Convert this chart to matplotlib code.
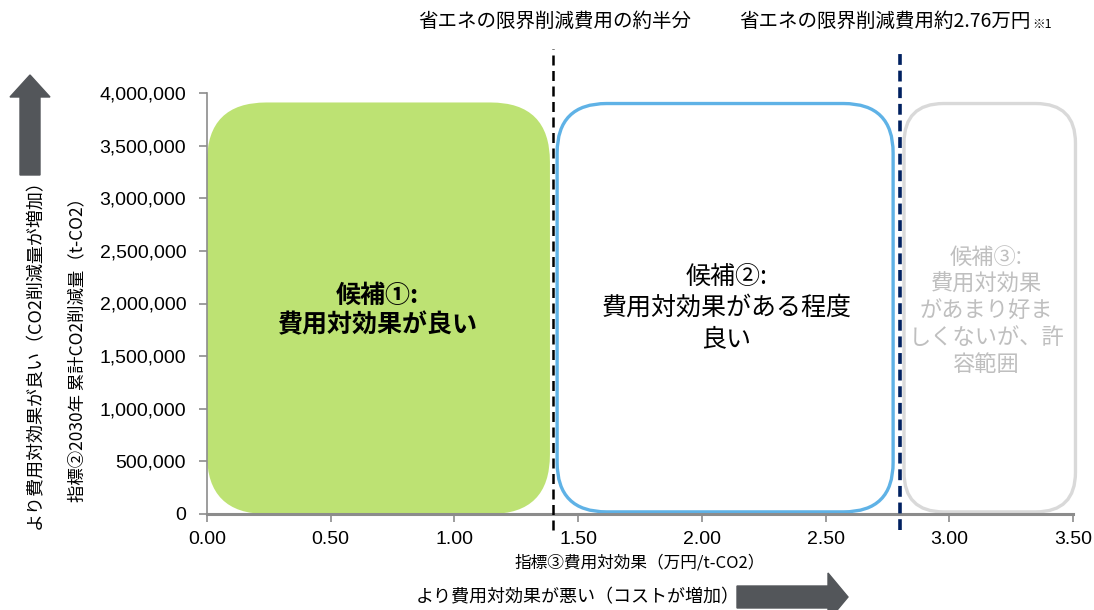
import matplotlib
matplotlib.use('Agg')
import matplotlib.pyplot as plt
from matplotlib.patches import FancyBboxPatch, FancyArrow
from matplotlib.ticker import FuncFormatter

plt.rcParams['font.family'] = ['Liberation Sans', 'Noto Sans CJK JP', 'DejaVu Sans']
JP = ['Noto Sans CJK JP', 'DejaVu Sans']

# candidate ranges on the cost-effectiveness axis (万円/t-CO2) and CO2 reduction height
cand_names = ['候補①:\n費用対効果が良い',
              '候補②:\n費用対効果がある程度\n良い',
              '候補③:\n費用対効果\nがあまり好ま\nしくないが、許\n容範囲']
cand_x0 = [0.0, 1.415, 2.817]
cand_x1 = [1.386, 2.773, 3.51]
cand_bottom = [0, 20000, 20000]
cand_top = [3910000, 3900000, 3900000]

half_cost = 1.40
marginal_cost = 2.80
ref_labels = ['省エネの限界削減費用の約半分', '省エネの限界削減費用約2.76万円']

xticks = [0.0, 0.5, 1.0, 1.5, 2.0, 2.5, 3.0, 3.5]
yticks = [0, 500000, 1000000, 1500000, 2000000, 2500000, 3000000, 3500000, 4000000]

fig = plt.figure(figsize=(10.94, 6.10), dpi=100)
ax = fig.add_axes([207/1094, 1-514/610, 866/1094, 421/610])
ax.set_xlim(0, 3.5)
ax.set_ylim(0, 4000000)
ax.set_xticks(xticks)
ax.set_yticks(yticks)
ax.xaxis.set_major_formatter(FuncFormatter(lambda v, p: f'{v:.2f}'))
ax.yaxis.set_major_formatter(FuncFormatter(lambda v, p: f'{int(v):,}'))
ax.tick_params(axis='both', labelsize=14, color='#8c8c8c', length=6, width=1.2)
ax.tick_params(axis='y', pad=9)
ax.tick_params(axis='x', pad=6)
for s in ['top', 'right']:
    ax.spines[s].set_visible(False)
ax.spines['left'].set_color('#8c8c8c')
ax.spines['left'].set_linewidth(1.2)
ax.spines['bottom'].set_color('#8c8c8c')
ax.spines['bottom'].set_linewidth(2.2)

# aspect so rounded corners come out circular
aspect = (4000000 / 421) / (3.5 / 866)

styles = [dict(fc='#bde273', ec='none', lw=0, r=0.24),
          dict(fc='white', ec='#5fb2e6', lw=2.4, r=0.20),
          dict(fc='white', ec='#d9d9d9', lw=2.4, r=0.16)]
for x0, x1, y0, top, st in zip(cand_x0, cand_x1, cand_bottom, cand_top, styles):
    p = FancyBboxPatch((x0, y0), x1 - x0, top - y0,
                       boxstyle=f'round,pad=0,rounding_size={st["r"]}',
                       mutation_aspect=aspect, fc=st['fc'], ec=st['ec'],
                       lw=st['lw'], clip_on=False, zorder=2)
    ax.add_patch(p)

ax.text(0.69, 1930000, cand_names[0], ha='center', va='center', fontsize=18,
        fontweight='bold', family=JP, linespacing=1.25, zorder=3)
ax.text(2.10, 1960000, cand_names[1], ha='center', va='center', fontsize=18,
        family=JP, linespacing=1.25, zorder=3)
ax.text(3.15, 1930000, cand_names[2], ha='center', va='center', fontsize=16,
        color='#bfbfbf', family=JP, linespacing=1.2, zorder=3)

ax.plot([half_cost, half_cost], [-150000, 4420000], color='black', lw=1.8,
        dashes=(4, 2.2), clip_on=False, zorder=4)
ax.plot([marginal_cost, marginal_cost], [-150000, 4420000], color='#002060', lw=2.6,
        dashes=(3, 1.6), clip_on=False, zorder=4)

fig.text(555/1094, 1-21/610, ref_labels[0], ha='center', va='center', fontsize=14, family=JP)
fig.text(1031/1094, 1-21/610, ref_labels[1], ha='right', va='center', fontsize=14, family=JP)
fig.text(1032/1094, 1-25/610, '※1', ha='left', va='center', fontsize=9, family=JP)

ax.set_xlabel('指標③費用対効果（万円/t-CO2）', fontsize=12, family=JP, labelpad=5)
fig.text(77/1094, 1-345/610, '指標②2030年 累計CO2削減量（t-CO2）', rotation=90,
         ha='center', va='center', fontsize=12.5, family=JP)
fig.text(35/1094, 1-350/610, 'より費用対効果が良い（CO2削減量が増加）', rotation=90,
         ha='center', va='center', fontsize=13, family=JP)
fig.text(578/1094, 1-597/610, 'より費用対効果が悪い（コストが増加）', ha='center',
         va='center', fontsize=13, family=JP)

# direction arrows
fig.patches.append(FancyArrow(30/1094, 1-175/610, 0, 100/610, width=20/1094,
                              head_width=40/1094, head_length=22/610,
                              length_includes_head=True, color='#53565a',
                              transform=fig.transFigure, figure=fig))
fig.patches.append(FancyArrow(737/1094, 1-597/610, 111/1094, 0, width=22/610,
                              head_width=48/610, head_length=20/1094,
                              length_includes_head=True, color='#53565a',
                              transform=fig.transFigure, figure=fig))

fig.savefig('out.png', dpi=100)
